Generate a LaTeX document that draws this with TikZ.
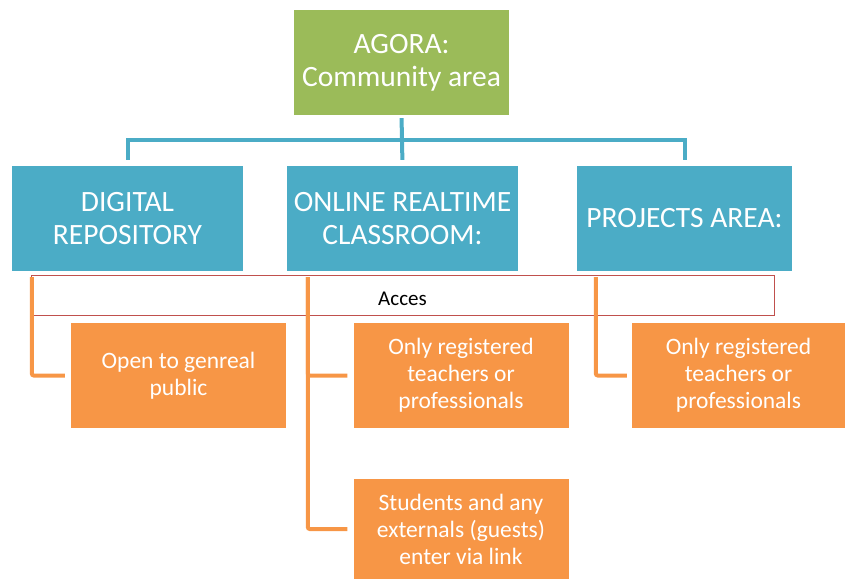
\documentclass[tikz,border=0pt]{standalone}
\usepackage{fontspec}
\setmainfont{Carlito}
\usetikzlibrary{positioning}

\definecolor{agoragreen}{HTML}{9BBB59}
\definecolor{areablue}{HTML}{4BACC6}
\definecolor{accesorange}{HTML}{F79646}
\definecolor{accesred}{HTML}{C0504D}

\tikzset{
    areabox/.style={fill=areablue, text=white, align=center, inner sep=0pt,
        minimum height=105pt, font=\fontsize{29.5}{33}\selectfont},
    accesbox/.style={fill=accesorange, text=white, align=center, inner sep=0pt,
        minimum width=215pt, minimum height=105pt, font=\fontsize{23.5}{27}\selectfont},
    blueline/.style={draw=areablue, line width=4pt},
    orangeline/.style={draw=accesorange, line width=4pt, rounded corners=2pt}
}

\begin{document}
\begin{tikzpicture}[x=1pt, y=-1pt] %Areas de la plataforma
            \useasboundingbox (0,0) rectangle (845,579);

            \node[areabox, fill=agoragreen, minimum width=215pt] (agora) at (401.5,62.5) {AGORA:\\Community area};

            \node[areabox, minimum width=231pt] (repo) at (127.5,218.5) {DIGITAL\\REPOSITORY};
            \node[areabox, minimum width=231pt] (online) at (402.5,218.5) {ONLINE REALTIME\\CLASSROOM:};
            \node[areabox, minimum width=215pt] (projects) at (684.5,218.5) {PROJECTS AREA:};

            \coordinate (bar) at (402,140);
            \draw[blueline, shorten <=3pt, shorten >=6pt] (agora.south) -- (online.north);
            \draw[blueline, shorten <=6pt, shorten >=6pt] (repo.north) |- (bar) -| (projects.north);

            \node[draw=accesred, line width=0.8pt, minimum width=743pt, minimum height=40pt,
                inner sep=0pt, text height=21pt, text depth=0pt,
                font=\fontsize{21}{24}\selectfont] (acces) at (402.5,295) {Acces};

            \node[accesbox] (open) at (178.5,375.5) {Open to genreal\\public};
            \node[accesbox] (onlyA) at (461,375.5) {Only registered\\teachers or\\professionals};
            \node[accesbox, minimum height=100pt] (students) at (461,529) {Students and any\\externals (guests)\\enter via link};
            \node[accesbox, minimum width=213pt] (onlyB) at (738.5,375.5) {Only registered\\teachers or\\professionals};

            \draw[orangeline, shorten >=6pt] ([xshift=20pt,yshift=-6pt]repo.south west) |- (open.west);
            \draw[orangeline, shorten >=6pt] ([xshift=21pt,yshift=-6pt]online.south west) |- (onlyA.west);
            \draw[orangeline, shorten >=6pt] ([xshift=21pt,yshift=-6pt]online.south west) |- (students.west);
            \draw[orangeline, shorten >=5pt] ([xshift=19pt,yshift=-6pt]projects.south west) |- (onlyB.west);
        \end{tikzpicture}
\end{document}
